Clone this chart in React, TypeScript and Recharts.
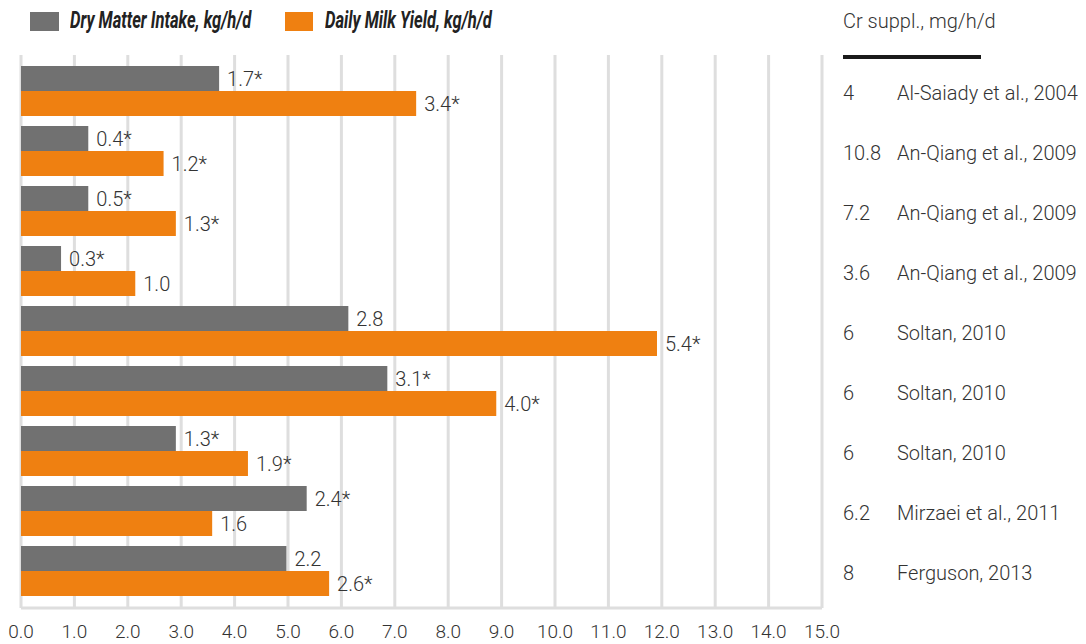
import { BarChart, Bar, XAxis, YAxis, CartesianGrid, Legend, LabelList } from 'recharts'

// studies shown in the right-hand table, top to bottom
const studies = [
  'Al-Saiady et al., 2004',
  'An-Qiang et al., 2009',
  'An-Qiang et al., 2009',
  'An-Qiang et al., 2009',
  'Soltan, 2010',
  'Soltan, 2010',
  'Soltan, 2010',
  'Mirzaei et al., 2011',
  'Ferguson, 2013',
]
const crDoses = ['4', '10.8', '7.2', '3.6', '6', '6', '6', '6.2', '8']

// bar lengths
const dmiValues = [3.71, 1.26, 1.26, 0.75, 6.13, 6.86, 2.9, 5.35, 4.97]
const milkValues = [7.4, 2.67, 2.9, 2.14, 11.91, 8.9, 4.25, 3.58, 5.77]

// printed labels next to the bars
const dmiLabels = ['1.7*', '0.4*', '0.5*', '0.3*', '2.8', '3.1*', '1.3*', '2.4*', '2.2']
const milkLabels = ['3.4*', '1.2*', '1.3*', '1.0', '5.4*', '4.0*', '1.9*', '1.6', '2.6*']

const xTicks = [0, 1, 2, 3, 4, 5, 6, 7, 8, 9, 10, 11, 12, 13, 14, 15]

const GREY = '#717171'
const ORANGE = '#ef8011'
const GRID = '#dedede'
const TEXT = '#333333'
const FONT = 'Roboto, "Noto Sans", sans-serif'

const data = studies.map((s, i) => ({
  row: String(i),
  study: s,
  dmi: dmiValues[i],
  milk: milkValues[i],
  dmiLabel: dmiLabels[i],
  milkLabel: milkLabels[i],
}))

const StudyTick = (props: any) => {
  const { x, y, payload } = props
  const i = Number(payload.value)
  const style = { fontFamily: FONT, fontSize: 20, fontWeight: 300, fill: TEXT }
  return (
    <g>
      <text x={x} y={y + 1.5} dy="0.355em" textAnchor="start" style={style}>
        {crDoses[i]}
      </text>
      <text x={x + 54} y={y + 1.5} dy="0.355em" textAnchor="start" style={style}>
        {studies[i]}
      </text>
    </g>
  )
}

const legendText: React.CSSProperties = {
  position: 'absolute',
  top: 8,
  fontSize: 24,
  lineHeight: '24px',
  fontWeight: 700,
  fontStyle: 'italic',
  color: '#222',
  whiteSpace: 'nowrap',
  transform: 'scaleX(0.69)',
  transformOrigin: 'left center',
}

const renderLegend = () => (
  <div style={{ position: 'relative', width: 1086, height: 44, fontFamily: FONT }}>
    <div style={{ position: 'absolute', left: 30, top: 12, width: 29, height: 19, background: GREY }} />
    <span style={{ ...legendText, left: 70 }}>Dry Matter Intake, kg/h/d</span>
    <div style={{ position: 'absolute', left: 285, top: 12, width: 28, height: 19, background: ORANGE }} />
    <span style={{ ...legendText, left: 325 }}>Daily Milk Yield, kg/h/d</span>
    <span
      style={{
        position: 'absolute',
        left: 843,
        top: 11,
        fontSize: 20,
        lineHeight: '20px',
        fontWeight: 300,
        color: TEXT,
        whiteSpace: 'nowrap',
      }}
    >
      Cr suppl., mg/h/d
    </span>
    <div style={{ position: 'absolute', left: 843, top: 55, width: 138, height: 4, background: '#1a1a1a' }} />
  </div>
)

export default function App() {
  return (
    <div style={{ width: 1086, height: 644 }}>
      <style>{'body{margin:0}'}</style>
      <BarChart
        width={1086}
        height={644}
        data={data}
        layout="vertical"
        margin={{ top: 11, right: 0, bottom: 0, left: 21 }}
        barGap={0}
        barSize={25}
      >
        <Legend
          verticalAlign="top"
          height={44}
          content={renderLegend}
          wrapperStyle={{ left: 0, top: 0, width: 1086 }}
        />
        <CartesianGrid horizontal={false} stroke={GRID} strokeWidth={3} />
        <XAxis
          type="number"
          domain={[0, 15]}
          ticks={xTicks}
          interval={0}
          tickFormatter={(v: number) => v.toFixed(1)}
          tickLine={false}
          axisLine={{ stroke: GRID, strokeWidth: 3 }}
          tickMargin={11}
          height={36}
          tick={{ fill: TEXT, fontSize: 19, fontFamily: FONT, fontWeight: 300 }}
        />
        <XAxis
          xAxisId="top"
          orientation="top"
          type="number"
          domain={[0, 15]}
          ticks={xTicks}
          tick={false}
          tickLine={false}
          height={0}
          axisLine={{ stroke: GRID, strokeWidth: 3 }}
        />
        <YAxis
          type="category"
          dataKey="row"
          orientation="right"
          width={264}
          axisLine={false}
          tickLine={false}
          tickSize={0}
          tickMargin={21}
          interval={0}
          padding={{ top: 6, bottom: 7 }}
          tick={<StudyTick />}
        />
        <Bar dataKey="dmi" fill={GREY} isAnimationActive={false}>
          <LabelList
            dataKey="dmiLabel"
            position="right"
            offset={8}
            style={{ fill: TEXT, fontSize: 20, fontFamily: FONT, fontWeight: 300 }}
          />
        </Bar>
        <Bar dataKey="milk" fill={ORANGE} isAnimationActive={false}>
          <LabelList
            dataKey="milkLabel"
            position="right"
            offset={8}
            style={{ fill: TEXT, fontSize: 20, fontFamily: FONT, fontWeight: 300 }}
          />
        </Bar>
      </BarChart>
    </div>
  )
}
